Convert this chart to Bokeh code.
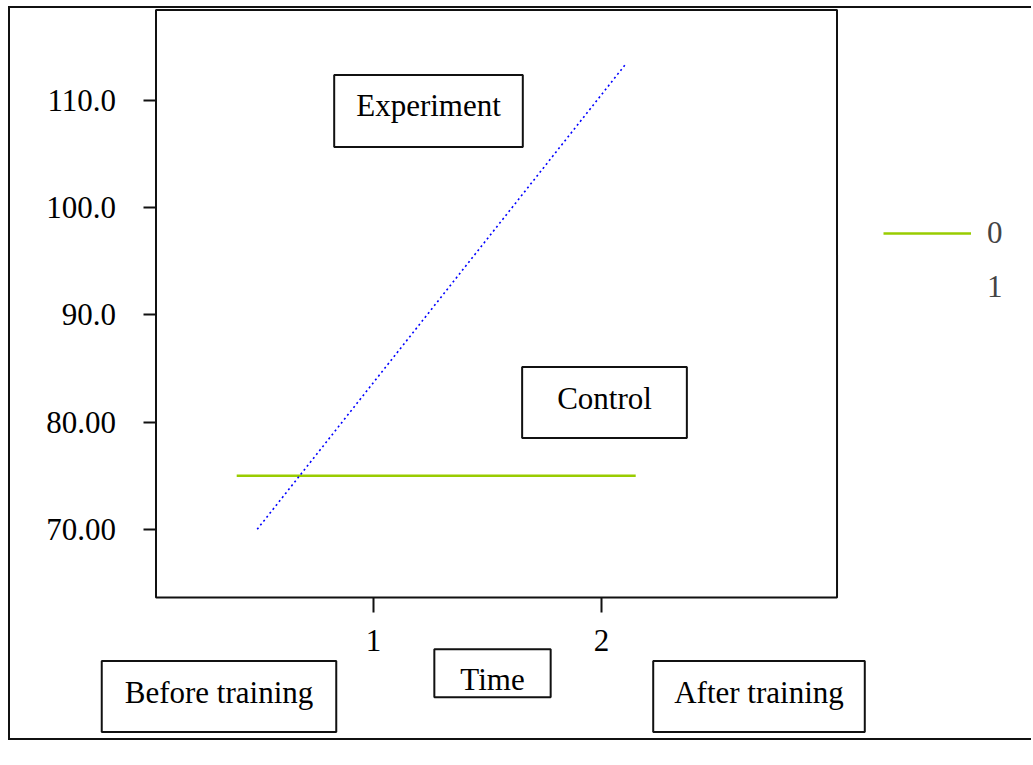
from bokeh.plotting import figure
from bokeh.models import FixedTicker, Label, Legend, LegendItem, Range1d, BoxAnnotation
from bokeh.embed import file_html
from bokeh.resources import INLINE

# ---- data ----
group_labels = ["0", "1"]
control_time = [0.40, 2.15]
control_score = [75.0, 75.0]
experiment_time = [0.49, 2.11]
experiment_score = [70.0, 113.5]
x_ticks = [1, 2]
y_ticks = [70, 80, 90, 100, 110]
y_tick_labels = ["70.00", "80.00", "90.0", "100.0", "110.0"]
box_texts = ["Experiment", "Control", "Before training", "Time", "After training"]

# plot-area limits (axis extents) and full canvas extents
PLOT_X0, PLOT_X1 = 0.046, 3.033
PLOT_Y0, PLOT_Y1 = 63.64, 118.44
VIEW_X0, VIEW_X1 = -0.5921, 3.8947
VIEW_Y0, VIEW_Y1 = 50.11, 118.58

FONT = "Liberation Serif"
FS = "31px"
INK = "#111111"

p = figure(width=1023, height=734,
           x_range=Range1d(VIEW_X0, VIEW_X1), y_range=Range1d(VIEW_Y0, VIEW_Y1),
           output_backend="svg", toolbar_location=None,
           min_border=0)
p.title.visible = False
p.grid.visible = False
p.outline_line_color = None
p.styles = {"margin-left": "8px", "margin-top": "6px",
            "border-left": "2px solid #111", "border-top": "2px solid #111",
            "border-bottom": "2px solid #111"}

# plot area rectangle
p.add_layout(BoxAnnotation(left=PLOT_X0, right=PLOT_X1, bottom=PLOT_Y0, top=PLOT_Y1,
                           fill_color=None, fill_alpha=0,
                           line_color=INK, line_alpha=1.0, line_width=2))

for ax in (p.xaxis[0], p.yaxis[0]):
    ax.axis_line_color = None
    ax.major_tick_line_color = INK
    ax.major_tick_line_width = 2
    ax.major_tick_in = 0
    ax.minor_tick_line_color = None
    ax.major_label_text_font = FONT
    ax.major_label_text_font_size = FS
    ax.major_label_text_color = "black"

p.xaxis.fixed_location = PLOT_Y0
p.xaxis.ticker = FixedTicker(ticks=x_ticks)
p.xaxis.major_tick_out = 15
p.xaxis.major_label_standoff = 18
p.yaxis.fixed_location = PLOT_X0
p.yaxis.ticker = FixedTicker(ticks=y_ticks)
p.yaxis.major_tick_out = 12
p.yaxis.major_label_standoff = 28
p.yaxis.major_label_overrides = {t: s for t, s in zip(y_ticks, y_tick_labels)}

r_ctrl = p.line(control_time, control_score, line_color="#99cc00", line_width=2.5)
r_exp = p.line(experiment_time, experiment_score, line_color="#0000ff",
               line_width=1.6, line_dash="2 3")
r_exp_key = p.line(experiment_time, experiment_score, line_alpha=0)

legend = Legend(items=[LegendItem(label=group_labels[0], renderers=[r_ctrl]),
                       LegendItem(label=group_labels[1], renderers=[r_exp_key])],
                location=(873, 437), padding=0, margin=0, spacing=18,
                glyph_width=88, glyph_height=34, label_height=34, label_standoff=16,
                label_text_font=FONT, label_text_font_size=FS,
                border_line_color=None, background_fill_alpha=0)
p.add_layout(legend)

# boxed text annotations: (text, x, y, padding) in screen px from bottom-left
boxes = [
    (box_texts[0], 418, 631.5, dict(left=22, right=22, top=13, bottom=24)),
    (box_texts[1], 594, 340, dict(left=35, right=35, top=14, bottom=22)),
    (box_texts[2], 208.5, 46, dict(left=23, right=23, top=14, bottom=22)),
    (box_texts[3], 482, 69.25, dict(left=26, right=26, top=13, bottom=0)),
    (box_texts[4], 748.5, 46, dict(left=21, right=21, top=14, bottom=22)),
]
for txt, sx, sy, pad in boxes:
    p.add_layout(Label(x=sx, y=sy, x_units="screen", y_units="screen", text=txt,
                       text_font=FONT, text_font_size=FS, text_color="black",
                       text_align="center", text_baseline="middle",
                       border_line_color=INK, border_line_width=2,
                       background_fill_color="white", padding=pad))

open("out.html", "w").write(file_html(p, INLINE))
